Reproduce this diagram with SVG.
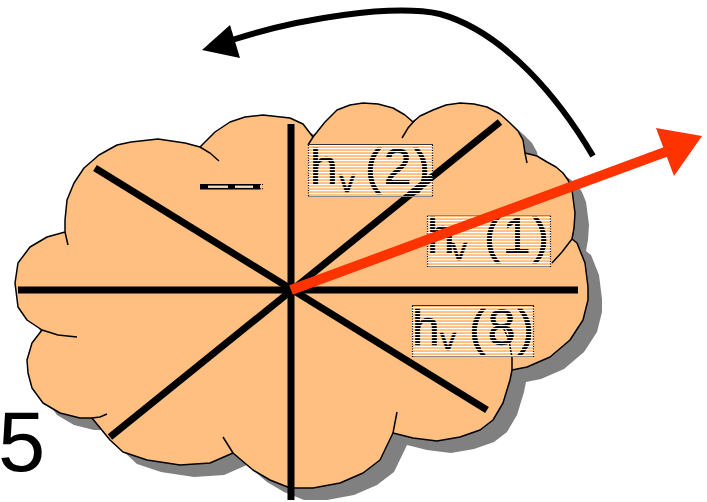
<svg xmlns="http://www.w3.org/2000/svg" width="707" height="502" viewBox="0 0 707 502">
<style>
.cloud{fill:#FFBF80;stroke:#000;stroke-width:1.5;stroke-linejoin:round}
.shadow{fill:#808080}
.tail{fill:none;stroke:#000;stroke-width:1.5}
.spoke{stroke:#000;stroke-width:7;fill:none}
.lbl{font-family:"Liberation Sans",Arial,sans-serif;font-size:50px;fill:#000;stroke:#000;stroke-width:0.6}
.sub{font-size:32px}
.stripes{fill:url(#stripes)}
.edge{stroke:#000;stroke-width:1.2;stroke-dasharray:1 1.5;fill:none}
.topb{stroke:#333;stroke-width:1}
.botb{stroke:#8a8a8a;stroke-width:1}
</style>
<defs>
<pattern id="stripes" width="6" height="3" patternUnits="userSpaceOnUse">
<rect x="0" y="1" width="6" height="1.1" fill="#fff"/>
</pattern>
<path id="cloudpath" d="M65,232 L65,220 L67,200 L74,183 L84,168 L99,155 L117,145 L131,142 L158,139 L185,143 L200,147 L215,132 L230,122 L245,117 L263,115 L290,118 L303,124 L313,137 L325,122 L337,110 L350,105 L363,103 L378,104 L393,108 L405,115 L413,122 L420,116 L433,110 L446,105 L460,103 L474,104 L487,107 L500,114 L510,123 L518,131 L523,140 L525,153 L537,156 L547,162 L556,167 L563,173 L568,180 L572,190 L575,213 L574,228 L572,239 L577,243 L585,263 L588,287 L588,300 L583,320 L570,340 L550,357 L527,367 L512,370 L510,380 L503,403 L493,420 L480,430 L460,437 L437,441 L413,438 L393,433 L380,460 L363,473 L340,483 L313,488 L290,488 L270,480 L253,470 L233,453 L210,463 L180,465 L147,460 L123,452 L110,440 L92,418 L80,418 L60,413 L43,403 L32,388 L28,373 L27,360 L32,343 L42,330 L27,320 L18,307 L15,283 L18,263 L30,247 L47,237 Z"/>
</defs>

<g id="cloud">
<use href="#cloudpath" class="shadow" transform="translate(14,12)"/>
<use href="#cloudpath" class="cloud"/>
<path class="tail" d="M65,232 L68,245 M200,147 L210,153 L219,161 M313,137 L308,145 M415,120 L408,128 L402,138 M525,153 L527,163 M572,239 L562,252 L552,263 M512,370 L512,358 L509,340 L502,325 M393,433 L397,412 M233,453 L223,437 M92,418 L100,417 L107,414 M42,330 L58,335 L77,337"/>
</g>

<g id="spokes">
<path class="spoke" d="M291,124 L291,500"/>
<path class="spoke" d="M18,290 L578,290"/>
<path class="spoke" d="M95,168 L487,410"/>
<path class="spoke" d="M110,437 L500,122"/>
</g>

<g id="label-blank">
<rect x="200" y="184" width="60" height="5.5" fill="#000"/>
<rect x="208" y="185.6" width="20" height="2.3" fill="#FFE2C4"/>
<rect x="235" y="185.6" width="18" height="2.3" fill="#FFE2C4"/>
<path d="M260,184.5 L263,184.5 M260,188.8 L263,188.8" stroke="#000" stroke-width="1" stroke-dasharray="1 1"/>
</g>

<g id="label-hv2">
<text class="lbl" x="310" y="184">h<tspan class="sub" x="339" y="192">v</tspan><tspan x="365" y="184" style="letter-spacing:2px">(2)</tspan></text>
<rect class="stripes" x="308" y="144" width="125" height="53"/>
<line class="topb" x1="308" y1="144.5" x2="433" y2="144.5"/>
<line class="botb" x1="308" y1="196.5" x2="433" y2="196.5"/>
<line class="edge" x1="308.5" y1="145" x2="308.5" y2="197"/>
<line class="edge" x1="432.5" y1="145" x2="432.5" y2="197"/>
</g>

<g id="label-hv1">
<text class="lbl" x="427" y="253">h<tspan class="sub" x="451" y="260">v</tspan><tspan x="484" y="253" style="letter-spacing:2px">(1)</tspan></text>
<rect class="stripes" x="427" y="215" width="124" height="52"/>
<line class="botb" x1="427" y1="215.5" x2="551" y2="215.5"/>
<line class="botb" x1="427" y1="266.5" x2="551" y2="266.5"/>
<line class="edge" x1="427.5" y1="216" x2="427.5" y2="267"/>
<line class="edge" x1="550.5" y1="216" x2="550.5" y2="267"/>
</g>

<g id="label-hv8">
<text class="lbl" x="412" y="345">h<tspan class="sub" x="440" y="350">v</tspan><tspan x="469" y="345" style="letter-spacing:2px">(8)</tspan></text>
<rect class="stripes" x="412" y="305" width="122" height="52"/>
<line class="topb" x1="412" y1="305.5" x2="534" y2="305.5"/>
<line class="botb" x1="412" y1="356.5" x2="534" y2="356.5"/>
<line class="edge" x1="412.5" y1="306" x2="412.5" y2="357"/>
<line class="edge" x1="533.5" y1="306" x2="533.5" y2="357"/>
</g>

<g id="connectors">
<g id="red-arrow">
<path d="M291,290 L668,151" stroke="#FF3300" stroke-width="10" fill="none"/>
<polygon points="702,136 656,128 674,176" fill="#FF3300"/>
</g>
<g id="rotation-arrow">
<path d="M593,156 C560,100 505,32 440,14 C392,4 300,18 232,40" stroke="#000" stroke-width="6" fill="none"/>
<polygon points="202,50 230,25 240,58" fill="#000"/>
</g>
</g>

<text id="num" x="-2" y="471" style="font-family:'Liberation Sans',Arial,sans-serif;font-size:85px" fill="#000">5</text>
</svg>
